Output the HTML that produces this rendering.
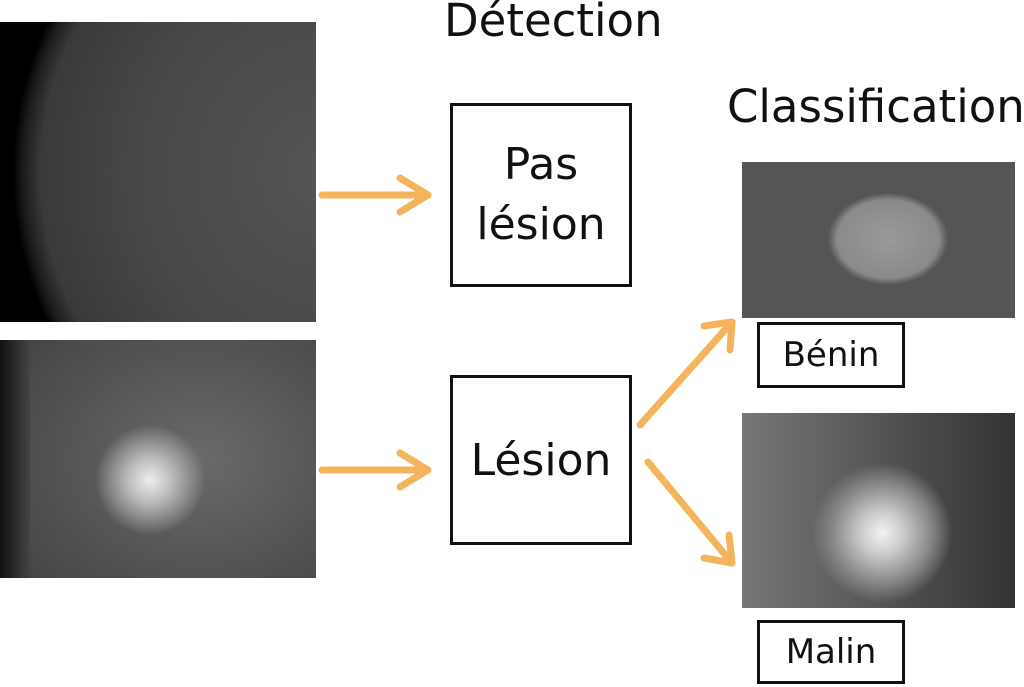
<!DOCTYPE html>
<html><head><meta charset="utf-8"><style>
body{margin:0;width:1024px;height:687px;background:#fff;position:relative;overflow:hidden;font-family:"DejaVu Sans","Liberation Sans",sans-serif;color:#111}
.a{position:absolute}
.box{position:absolute;border:3px solid #111;box-sizing:border-box;display:flex;align-items:center;justify-content:center;text-align:center}
</style></head><body>
<div class="a" style="left:0;top:22px;width:316px;height:300px;background:radial-gradient(ellipse 310px 330px at 320px 150px,#555 0%,#474747 60%,#3a3a3a 90%,#1a1a1a 96%,#000 99%)"></div>
<div class="a" style="left:0;top:340px;width:316px;height:238px;background:radial-gradient(circle 55px at 150px 140px,#eee 0%,#bbb 40%,transparent 100%),radial-gradient(ellipse 300px 240px at 200px 120px,#6a6a6a 0%,#484848 70%,#2a2a2a 100%)"></div>
<div class="a" style="left:0;top:340px;width:30px;height:238px;background:linear-gradient(90deg,#111,#444)"></div>
<div class="a" style="left:742px;top:162px;width:273px;height:156px;background:radial-gradient(ellipse 60px 46px at 146px 77px,#9a9a9a 0%,#8a8a8a 85%,#555 100%),radial-gradient(ellipse 200px 120px at 140px 80px,#666,#3a3a3a)"></div>
<div class="a" style="left:742px;top:413px;width:273px;height:195px;background:radial-gradient(circle 70px at 140px 120px,#f2f2f2 0%,#ccc 30%,#888 70%,transparent 100%),linear-gradient(90deg,#777,#555 50%,#333)"></div>
<div class="a" style="left:444px;top:-6px;font-size:45px">Détection</div>
<div class="a" style="left:727px;top:80px;font-size:45px">Classification</div>
<div class="box" style="left:450px;top:103px;width:182px;height:184px;font-size:44px;line-height:60px">Pas<br>lésion</div>
<div class="box" style="left:450px;top:375px;width:182px;height:170px;font-size:44px">Lésion</div>
<div class="box" style="left:757px;top:322px;width:148px;height:66px;font-size:34px">Bénin</div>
<div class="box" style="left:757px;top:620px;width:148px;height:64px;font-size:34px">Malin</div>
<svg class="a" style="left:0;top:0" width="1024" height="687">
<g stroke="#f4b45c" stroke-width="7" fill="none" stroke-linecap="round" stroke-linejoin="round">
<line x1="322" y1="195" x2="428" y2="195"/><polyline points="400,178 428,195 400,212"/>
<line x1="322" y1="470" x2="428" y2="470"/><polyline points="400,453 428,470 400,487"/>
<line x1="640" y1="425" x2="732" y2="322"/><polyline points="704,326 732,322 730,350"/>
<line x1="648" y1="462" x2="732" y2="563"/><polyline points="729,535 732,563 704,558"/>
</g></svg>
</body></html>
